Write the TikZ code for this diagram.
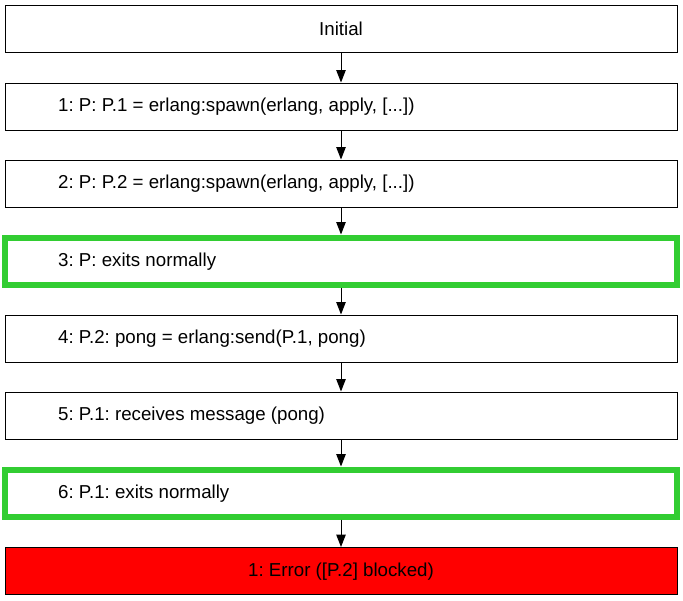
\documentclass[tikz,border=0pt]{standalone}
\usepackage{fontspec}
\setmainfont{Liberation Sans}
\usetikzlibrary{arrows.meta}
\definecolor{okgreen}{RGB}{50,205,50}
\frenchspacing
\tikzset{
  x=1pt, y=-1pt,
  state/.style={draw=black, line width=1pt, minimum width=672pt, minimum height=47pt, inner sep=0pt, fill=white},
  okstate/.style={state, draw=okgreen, line width=6pt, minimum width=672pt, minimum height=47pt},
  errstate/.style={state, fill=red},
  txt/.style={font=\fontsize{18.7pt}{22pt}\selectfont, inner sep=0pt},
  lbl/.style={txt, anchor=west},
  flow/.style={-{Triangle[length=12.5pt,width=9.5pt]}, line width=1pt}
}
\begin{document}
\frenchspacing
\begin{tikzpicture}
\useasboundingbox (0,0) rectangle (683,600);
\node[state] (s0) at (341,28.5) {};
\node[state] (s1) at (341,106.5) {};
\node[state] (s2) at (341,183.5) {};
\node[okstate] (s3) at (341,261) {};
\node[state] (s4) at (341,338.5) {};
\node[state] (s5) at (341,415.5) {};
\node[okstate] (s6) at (341,493) {};
\node[errstate] (s7) at (341,571) {};
\node[txt] (t0) at (341,29) {Initial};
\node[lbl] (t1) at (58,107) {1: P: P.1 = erlang:spawn(erlang, apply, [...])};
\node[lbl] (t2) at (58,184) {2: P: P.2 = erlang:spawn(erlang, apply, [...])};
\node[lbl] (t3) at (58,261.5) {3: P: exits normally};
\node[lbl] (t4) at (58,339) {4: P.2: pong = erlang:send(P.1, pong)};
\node[lbl] (t5) at (58,416) {5: P.1: receives message (pong)};
\node[lbl] (t6) at (58,493.5) {6: P.1: exits normally};
\node[txt] (t7) at (341,571.5) {1: Error ([P.2] blocked)};
\draw[flow] (s0) -- (s1);
\draw[flow] (s1) -- (s2);
\draw[flow] (s2) -- (s3);
\draw[flow] (s3) -- (s4);
\draw[flow] (s4) -- (s5);
\draw[flow] (s5) -- (s6);
\draw[flow] (s6) -- (s7);
\end{tikzpicture}
\end{document}
